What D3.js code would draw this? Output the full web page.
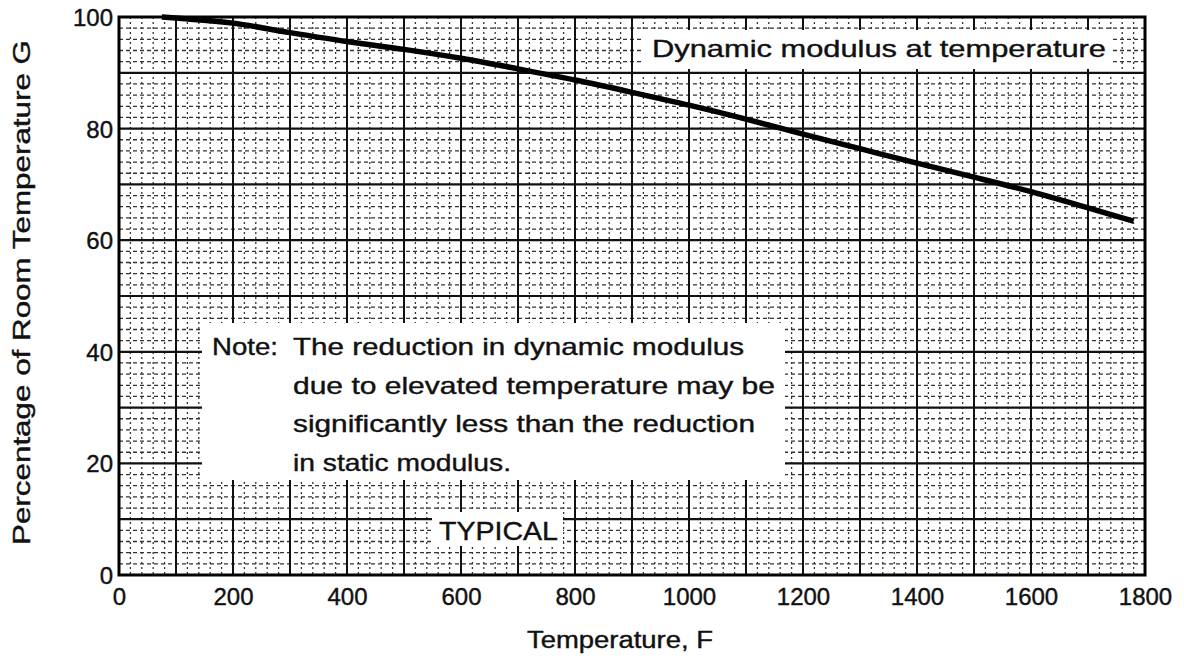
<!DOCTYPE html>
<html><head><meta charset="utf-8">
<script src="https://cdn.jsdelivr.net/npm/d3@7"></script>
<style>html,body{margin:0;padding:0;background:#fff;}svg{display:block;}</style>
</head><body>
<svg id="c" width="1184" height="661"></svg>
<script>
const temps = [75, 100, 200, 300, 400, 500, 600, 700, 800, 900, 1000, 1100, 1200, 1300, 1400, 1500, 1600, 1700, 1780];
const pct   = [100, 99.8, 98.9, 97.2, 95.6, 94.2, 92.6, 90.7, 88.7, 86.5, 84.2, 81.7, 79.0, 76.4, 73.8, 71.3, 68.7, 65.8, 63.4];
const xTicks = [0, 200, 400, 600, 800, 1000, 1200, 1400, 1600, 1800];
const xTickLabels = ["0", "200", "400", "600", "800", "1000", "1200", "1400", "1600", "1800"];
const yTicks = [0, 20, 40, 60, 80, 100];
const yTickLabels = ["0", "20", "40", "60", "80", "100"];
const xTitle = "Temperature,  F";
const yTitle = "Percentage of Room Temperature G";
const curveLabel = "Dynamic modulus at temperature";
const noteLines = ["The reduction in dynamic modulus", "due to elevated temperature may be", "significantly less than the reduction", "in static modulus."];
const typicalLabel = "TYPICAL";

const svg = d3.select("#c");
const font = "'Liberation Sans', Arial, sans-serif";
const L = 119, R = 1145, T = 17, B = 575;
const x = d3.scaleLinear().domain([0, 1800]).range([L, R]);
const y = d3.scaleLinear().domain([0, 100]).range([B, T]);

const g = svg.append("g");
// minor grid
const minorX = d3.range(0, 1801, 20).filter(v => v % 100 !== 0);
const minorY = d3.range(0, 101, 2).filter(v => v % 10 !== 0);
g.selectAll(".mx").data(minorX).join("line")
  .attr("x1", d => x(d)).attr("x2", d => x(d)).attr("y1", T).attr("y2", B)
  .attr("stroke", "#333").attr("stroke-width", 1.3).attr("stroke-dasharray", "2,3");
g.selectAll(".my").data(minorY).join("line")
  .attr("x1", L).attr("x2", R).attr("y1", d => y(d)).attr("y2", d => y(d))
  .attr("stroke", "#333").attr("stroke-width", 1.3).attr("stroke-dasharray", "4,3");
// major grid
g.selectAll(".Mx").data(d3.range(100, 1800, 100)).join("line")
  .attr("x1", d => x(d)).attr("x2", d => x(d)).attr("y1", T).attr("y2", B)
  .attr("stroke", "#111").attr("stroke-width", 2);
g.selectAll(".My").data(d3.range(10, 100, 10)).join("line")
  .attr("x1", L).attr("x2", R).attr("y1", d => y(d)).attr("y2", d => y(d))
  .attr("stroke", "#111").attr("stroke-width", 2.2);

// annotation boxes
function box(x0, y0, x1, y1) {
  svg.append("rect").attr("x", x0).attr("y", y0).attr("width", x1 - x0).attr("height", y1 - y0).attr("fill", "#fff");
}
box(642, 30, 1113, 69);
box(202, 323, 785, 480);
box(432, 512, 563, 546);

// curve
svg.append("path").datum(temps.map((t, i) => [t, pct[i]]))
  .attr("d", d3.line().x(d => x(d[0])).y(d => y(d[1])).curve(d3.curveMonotoneX))
  .attr("fill", "none").attr("stroke", "#000").attr("stroke-width", 5.5).attr("stroke-linecap", "butt");

// frame
svg.append("rect").attr("x", L).attr("y", T).attr("width", R - L).attr("height", B - T)
  .attr("fill", "none").attr("stroke", "#000").attr("stroke-width", 3);

function style(sel, size) {
  return sel.attr("font-family", font).attr("font-size", size).attr("fill", "#111")
     .attr("stroke", "#111").attr("stroke-width", 0.4);
}

// axes
const xAxis = d3.axisBottom(x).tickValues(xTicks).tickFormat((d, i) => xTickLabels[i]).tickSize(0).tickPadding(0);
const xa = svg.append("g").attr("transform", `translate(0,${B})`).call(xAxis);
xa.select(".domain").remove();
style(xa.selectAll("text"), 24).attr("dy", 0).attr("y", 30);
const yAxis = d3.axisLeft(y).tickValues(yTicks).tickFormat((d, i) => yTickLabels[i]).tickSize(0).tickPadding(6);
const ya = svg.append("g").attr("transform", `translate(${L},0)`).call(yAxis);
ya.select(".domain").remove();
style(ya.selectAll("text"), 24).attr("dy", "0.35em");

// titles
style(svg.append("text").attr("x", 527).attr("y", 648), 23)
  .attr("textLength", 186).attr("lengthAdjust", "spacingAndGlyphs").text(xTitle);
style(svg.append("text").attr("transform", "translate(30,545) rotate(-90)"), 23)
  .attr("textLength", 505).attr("lengthAdjust", "spacingAndGlyphs").text(yTitle);

// labels
style(svg.append("text").attr("x", 652).attr("y", 57), 24)
  .attr("textLength", 454).attr("lengthAdjust", "spacingAndGlyphs").text(curveLabel);
style(svg.append("text").attr("x", 212).attr("y", 355), 24)
  .attr("textLength", 66).attr("lengthAdjust", "spacingAndGlyphs").text("Note:");
const noteW = [451, 482, 462, 218];
noteLines.forEach((s, i) => {
  style(svg.append("text").attr("x", 293).attr("y", 355 + i * 38.5), 24)
    .attr("textLength", noteW[i]).attr("lengthAdjust", "spacingAndGlyphs").text(s);
});
style(svg.append("text").attr("x", 439).attr("y", 540), 26)
  .attr("textLength", 119).attr("lengthAdjust", "spacingAndGlyphs").text(typicalLabel);
</script>
</body></html>
